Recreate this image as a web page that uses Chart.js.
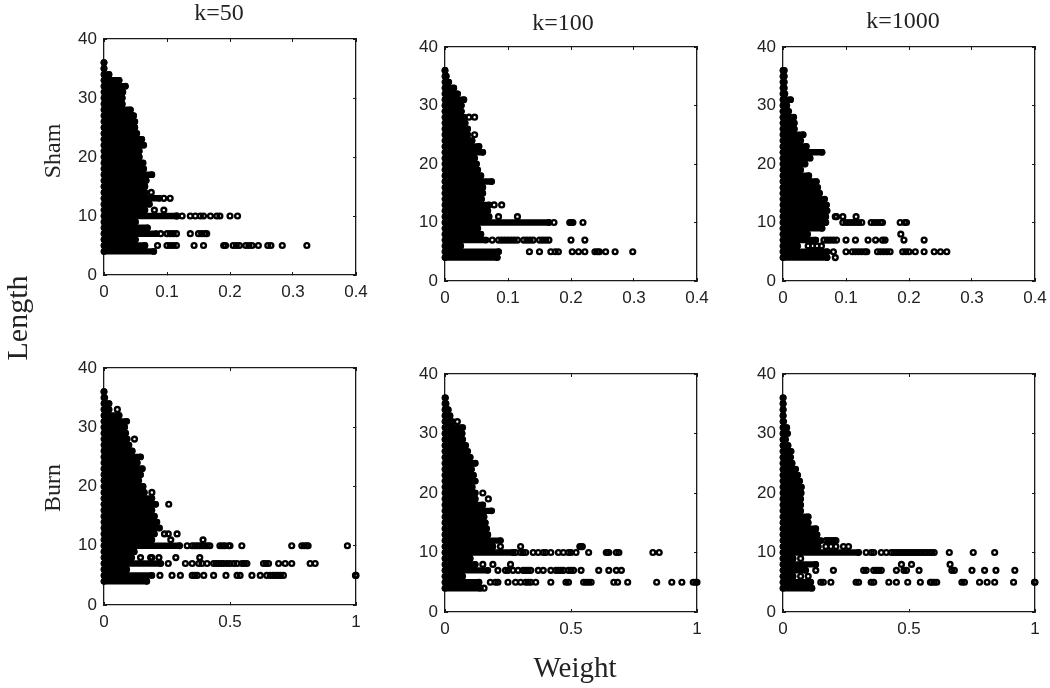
<!DOCTYPE html>
<html>
<head>
<meta charset="utf-8">
<title>Weight vs length</title>
<script src="https://cdn.jsdelivr.net/npm/chart.js@4"></script>
<style>
  html, body { margin: 0; padding: 0; background: #fff; }
  #page { position: relative; width: 1050px; height: 688px; overflow: hidden; filter: blur(0.4px); }
  canvas { position: absolute; }
  .label { position: absolute; font-family: "Liberation Serif", serif; color: #222; white-space: nowrap; transform: translate(-50%, -50%); }
  .rot { transform: translate(-50%, -50%) rotate(-90deg); }
</style>
</head>
<body>
<div id="page">
  <canvas id="c0"></canvas><canvas id="c1"></canvas><canvas id="c2"></canvas>
  <canvas id="c3"></canvas><canvas id="c4"></canvas><canvas id="c5"></canvas>
  <div class="label" style="left:219px;top:12px;font-size:24px">k=50</div>
  <div class="label" style="left:563px;top:22px;font-size:24px">k=100</div>
  <div class="label" style="left:903px;top:20px;font-size:24px">k=1000</div>
  <div class="label rot" style="left:52px;top:151px;font-size:24px">Sham</div>
  <div class="label rot" style="left:52px;top:488px;font-size:24px">Burn</div>
  <div class="label rot" style="left:17px;top:318px;font-size:30px">Length</div>
  <div class="label" style="left:575px;top:667px;font-size:29px">Weight</div>
</div>
<script>
// path lengths that have a row of points
const rowLengths = [4,5,6,7,8,9,10,11,12,13,14,15,16,17,18,19,20,21,22,23,24,25,26,27,28,29,30,31,32,33,34,35,36];
const lengthTicks = [0,10,20,30,40];
const shamWeightTicks = [0,0.1,0.2,0.3,0.4];
const burnWeightTicks = [0,0.5,1];

// how far the solid mass of points reaches in each row (same order as rowLengths)
const shamK50Reach = [.079,.065,.05,.083,.069,.05,.115,.065,.072,.088,.065,.065,.067,.076,.063,.062,.056,.056,.063,.06,.052,.049,.049,.047,.042,.029,.029,.03,.034,.024,.008,0,0];
const shamK100Reach = [.083,.085,.025,.065,.057,.052,.165,.07,.068,.07,.058,.06,.06,.074,.057,.052,.05,.047,.06,.054,.043,.036,.036,.032,.03,.026,.026,.03,.02,.014,.006,.002,0];
const shamK1000Reach = [.07,.07,.023,.052,.039,.062,.068,.068,.07,.069,.066,.058,.055,.053,.041,.028,.035,.043,.062,.037,.028,.032,.018,.018,.017,.009,.006,.012,.003,.002,.002,.002,.002];
const burnK50Reach = [.17,.19,.09,.225,.11,.12,.3,.19,.2,.22,.21,.2,.19,.205,.19,.16,.155,.138,.145,.152,.132,.145,.112,.099,.092,.086,.082,.09,.06,.02,.02,.003,0];
const burnK100Reach = [.14,.135,.07,.17,.12,.1,.27,.19,.22,.17,.165,.16,.155,.185,.15,.12,.12,.108,.12,.113,.105,.12,.1,.09,.082,.07,.068,.07,.03,.02,.013,.004,.002];
const burnK1000Reach = [.115,.11,.04,.09,.13,.04,.3,.14,.15,.135,.13,.1,.1,.07,.07,.07,.072,.073,.066,.058,.05,.036,.03,.032,.02,.01,.018,.015,.003,.001,.001,.001,.001];

// separate open circles, listed per length
const shamK50Dots = {
  5: [.085,.1,.105,.11,.115,.143,.158,.19,.193,.205,.21,.215,.225,.23,.235,.245,.26,.265,.283,.322],
  7: [.09,.1,.105,.11,.115,.137,.15,.155,.16,.163],
  10: [.116,.124,.137,.145,.153,.158,.169,.179,.184,.2,.212],
  11: [.08,.095],
  13: [.095,.105],
  14: [.075],
  27: [.045]
};
const shamK100Dots = {
  5: [.134,.15,.168,.175,.18,.202,.212,.222,.238,.242,.245,.255,.27,.298],
  7: [.075,.085,.09,.095,.1,.105,.11,.115,.125,.13,.135,.14,.15,.155,.16,.165,.2,.222],
  10: [.173,.198,.2,.203,.219],
  11: [.085,.115],
  13: [.078,.09],
  25: [.047],
  28: [.038,.047]
};
const shamK1000Dots = {
  4: [.083],
  5: [.08,.1,.11,.115,.12,.125,.13,.133,.15,.155,.16,.165,.17,.19,.195,.2,.21,.224,.24,.25,.26],
  6: [.04,.047,.054,.061],
  7: [.065,.07,.075,.08,.085,.1,.115,.135,.147,.158,.162,.192,.224],
  8: [.187],
  10: [.095,.1,.105,.11,.115,.12,.125,.14,.145,.15,.155,.158,.186,.193,.196],
  11: [.083,.085,.095,.116]
};
const burnK50Dots = {
  5: [.222,.27,.303,.35,.36,.37,.396,.435,.484,.528,.54,.587,.62,.646,.66,.67,.68,.69,.7,.712,.998,1],
  7: [.255,.323,.35,.376,.389,.409,.435,.445,.455,.465,.475,.488,.5,.515,.528,.547,.557,.567,.633,.643,.653,.693,.719,.745,.818,.838],
  8: [.145,.185,.19,.218,.285,.38],
  10: [.33,.35,.36,.37,.38,.39,.4,.41,.42,.46,.47,.48,.495,.5,.547,.745,.785,.795,.805,.81,.966],
  11: [.265,.393],
  12: [.24,.255,.29],
  17: [.257],
  19: [.19],
  28: [.121],
  33: [.053]
};
const burnK100Dots = {
  4: [.155],
  5: [.18,.2,.21,.25,.28,.3,.32,.33,.34,.36,.42,.48,.49,.55,.56,.57,.58,.67,.685,.725,.84,.9,.94,.985,.995,1],
  7: [.21,.24,.25,.27,.29,.31,.32,.33,.34,.37,.39,.42,.44,.45,.46,.47,.49,.5,.51,.54,.61,.65,.68,.7],
  8: [.15,.19,.26],
  10: [.28,.3,.31,.32,.35,.37,.39,.4,.42,.45,.47,.49,.5,.52,.57,.64,.645,.65,.68,.69,.825,.85],
  11: [.22,.3,.535,.54,.545],
  19: [.172],
  20: [.15],
  32: [.049]
};
const burnK1000Dots = {
  5: [.15,.16,.19,.29,.3,.35,.36,.42,.45,.495,.545,.585,.59,.6,.61,.71,.72,.78,.81,.84,.915,.998,1],
  6: [.07,.1],
  7: [.13,.2,.32,.33,.36,.37,.38,.39,.45,.48,.49,.54,.67,.68,.75,.8,.845,.92],
  8: [.47,.51,.663],
  9: [.07],
  10: [.33,.35,.36,.39,.41,.43,.44,.45,.46,.47,.48,.49,.5,.51,.52,.53,.54,.55,.56,.57,.58,.59,.6,.66,.755,.84],
  11: [.17,.19,.21,.24,.26],
  12: [.17,.18,.19,.2,.21]
};

const tickFont = { family: '"Liberation Sans", Arial, sans-serif', size: 17 };
const inkColor = '#1a1a1a';

function makeAxis(position, tickValues, showLabels, lo, hi) {
  return {
    type: 'linear',
    position: position,
    min: lo,
    max: hi,
    afterBuildTicks: scale => { scale.ticks = tickValues.map(v => ({ value: v })); },
    afterFit: scale => {
      if (position === 'left') scale.width = 35;
      if (position === 'bottom') scale.height = 28;
      if (position === 'top') scale.height = 0;
      if (position === 'right') scale.width = 0;
    },
    border: { display: true, color: inkColor, width: 1.3 },
    grid: { display: true, drawOnChartArea: false, drawTicks: true, tickLength: -3, color: inkColor, lineWidth: 1 },
    ticks: {
      display: showLabels,
      autoSkip: false,
      maxRotation: 0,
      padding: 10,
      color: '#222',
      font: tickFont,
      callback: v => String(v)
    }
  };
}

function makePanel(id, box, reach, dots, weightTicks) {
  const [left, top, right, bottom] = box;
  const canvas = document.getElementById(id);
  const canvasLeft = left - 40, canvasTop = top - 24;
  canvas.style.left = canvasLeft + 'px';
  canvas.style.top = canvasTop + 'px';
  canvas.width = right + 28 - canvasLeft;
  canvas.height = bottom + 30 - canvasTop;

  // one thick stroke per row for the part where the circles merge into a solid block
  const massPoints = [];
  rowLengths.forEach((len, i) => {
    massPoints.push({ x: 0, y: len }, { x: reach[i], y: len }, { x: NaN, y: NaN });
  });
  const dotPoints = [];
  Object.keys(dots).forEach(len => {
    dots[len].forEach(w => dotPoints.push({ x: w, y: Number(len) }));
  });
  const xMax = weightTicks[weightTicks.length - 1];

  return new Chart(canvas, {
    type: 'scatter',
    data: {
      datasets: [
        {
          label: 'solid',
          data: massPoints,
          showLine: true,
          spanGaps: false,
          borderColor: '#000',
          borderWidth: 6.4,
          borderCapStyle: 'round',
          backgroundColor: '#000',
          pointRadius: 3.4,
          pointBorderWidth: 0,
          clip: false
        },
        {
          label: 'open',
          data: dotPoints,
          showLine: false,
          borderColor: '#000',
          backgroundColor: 'rgba(0,0,0,0)',
          pointRadius: 2.4,
          pointBorderWidth: 2.4,
          clip: false
        }
      ]
    },
    options: {
      responsive: false,
      animation: false,
      layout: { padding: { left: 5, top: 24, right: 28, bottom: 2 } },
      plugins: { legend: { display: false }, title: { display: false }, tooltip: { enabled: false } },
      scales: {
        x: makeAxis('bottom', weightTicks, true, 0, xMax),
        y: makeAxis('left', lengthTicks, true, 0, 40),
        xTop: Object.assign(makeAxis('top', weightTicks, false, 0, xMax), { axis: 'x' }),
        yRight: Object.assign(makeAxis('right', lengthTicks, false, 0, 40), { axis: 'y' })
      }
    }
  });
}

makePanel('c0', [104, 39, 356, 275], shamK50Reach, shamK50Dots, shamWeightTicks);
makePanel('c1', [445, 47, 697, 281], shamK100Reach, shamK100Dots, shamWeightTicks);
makePanel('c2', [783, 47, 1035, 281], shamK1000Reach, shamK1000Dots, shamWeightTicks);
makePanel('c3', [104, 368, 356, 605], burnK50Reach, burnK50Dots, burnWeightTicks);
makePanel('c4', [445, 374, 697, 612], burnK100Reach, burnK100Dots, burnWeightTicks);
makePanel('c5', [783, 374, 1035, 612], burnK1000Reach, burnK1000Dots, burnWeightTicks);
</script>
</body>
</html>
